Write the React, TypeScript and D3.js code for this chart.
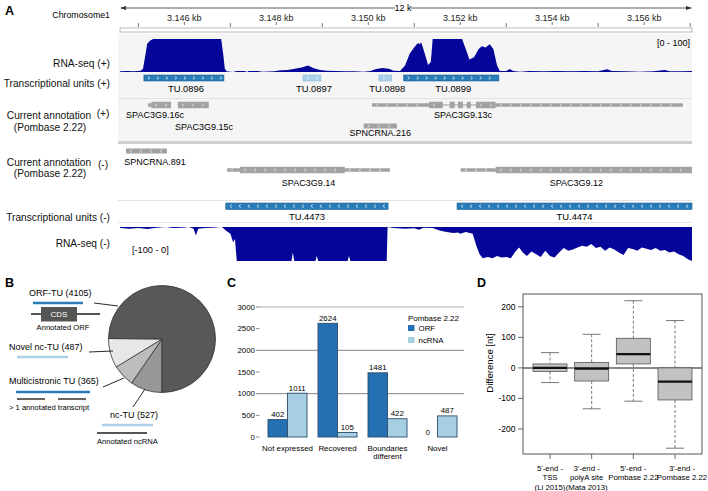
import React from 'react';
import * as d3 from 'd3';

const FONT = '"Liberation Sans", Arial, Helvetica, sans-serif';

// ---------- Panel A data ----------
const genomeDomain = [3144.6, 3157.04];
const rulerLabelTicks = [3146, 3148, 3150, 3152, 3154, 3156];
const rulerMinorTicks = [3145, 3147, 3149, 3151, 3153, 3155, 3157];

const rnaPlus: [number, number][] = [
  [3144.6, 2], [3144.75, 3], [3144.9, 2], [3145.05, 4], [3145.1, 10], [3145.15, 50], [3145.19, 85],
  [3145.25, 95], [3145.32, 100], [3146.8, 100], [3146.84, 60], [3146.88, 10], [3146.92, 2],
  [3147.05, 0], [3147.14, 3], [3147.32, 3], [3147.36, 0], [3147.4, 3], [3147.6, 3], [3147.7, 1],
  [3147.95, 2], [3148.1, 5], [3148.25, 6], [3148.4, 10], [3148.55, 14], [3148.69, 20], [3148.8, 12],
  [3148.95, 6], [3149.1, 4], [3149.3, 3], [3149.5, 2], [3149.7, 2], [3149.9, 1], [3150.05, 3],
  [3150.15, 8], [3150.3, 12], [3150.45, 10], [3150.55, 4], [3150.69, 3], [3150.8, 20], [3150.9, 55],
  [3151.0, 75], [3151.08, 88], [3151.12, 84], [3151.15, 90], [3151.22, 60], [3151.3, 21],
  [3151.36, 30], [3151.4, 100], [3152.04, 100], [3152.12, 70], [3152.2, 38], [3152.3, 45],
  [3152.4, 70], [3152.47, 78], [3152.55, 74], [3152.64, 84], [3152.72, 70], [3152.8, 20],
  [3152.86, 3], [3153.0, 3], [3153.08, 9], [3153.15, 3], [3153.3, 1], [3153.5, 3], [3153.8, 2],
  [3154.1, 3], [3154.4, 2], [3154.7, 3], [3155.0, 2], [3155.19, 8], [3155.3, 3], [3155.6, 2],
  [3155.9, 1], [3156.2, 2], [3156.45, 6], [3156.55, 2], [3156.8, 2], [3157.04, 3],
];

const rnaMinus: [number, number][] = [
  [3144.6, 3], [3144.8, 5], [3145.0, 3], [3145.2, 6], [3145.4, 2], [3145.6, 0], [3145.75, 3],
  [3145.95, 2], [3146.1, 0], [3146.2, 5], [3146.25, 25], [3146.3, 5], [3146.45, 3], [3146.6, 2],
  [3146.8, 0], [3146.84, 2], [3146.9, 10], [3147.0, 20], [3147.06, 45], [3147.1, 35], [3147.14, 100],
  [3148.33, 100], [3148.36, 75], [3148.39, 100], [3148.85, 100], [3148.88, 85], [3148.91, 100],
  [3149.55, 100], [3149.58, 85], [3149.61, 100], [3150.4, 100], [3150.42, 0], [3150.55, 3],
  [3150.8, 5], [3151.0, 4], [3151.1, 8], [3151.2, 2], [3151.4, 3], [3151.55, 10], [3151.7, 15],
  [3151.85, 18], [3151.95, 16], [3152.0, 20], [3152.12, 15], [3152.27, 20], [3152.35, 55],
  [3152.42, 80], [3152.49, 92], [3152.6, 88], [3152.7, 92], [3152.8, 85], [3152.9, 90], [3153.0, 88],
  [3153.1, 92], [3153.2, 72], [3153.28, 60], [3153.36, 75], [3153.45, 85], [3153.55, 72],
  [3153.65, 80], [3153.75, 88], [3153.85, 70], [3153.95, 85], [3154.05, 90], [3154.15, 75],
  [3154.25, 62], [3154.35, 70], [3154.45, 66], [3154.55, 60], [3154.65, 55], [3154.75, 58],
  [3154.85, 50], [3154.95, 62], [3155.05, 58], [3155.15, 70], [3155.25, 60], [3155.35, 66],
  [3155.45, 75], [3155.55, 82], [3155.65, 62], [3155.75, 65], [3155.85, 70], [3155.95, 60],
  [3156.05, 64], [3156.15, 68], [3156.25, 62], [3156.35, 70], [3156.45, 68], [3156.55, 75],
  [3156.65, 72], [3156.75, 80], [3156.85, 85], [3156.95, 95], [3157.04, 100],
];

const tuPlusNames = ['TU.0896', 'TU.0897', 'TU.0898', 'TU.0899'];
const tuPlusStart = [3145.12, 3148.58, 3150.23, 3150.77];
const tuPlusEnd = [3146.86, 3148.97, 3150.51, 3152.84];
const tuPlusNovel = [false, true, true, false];

const tuMinusNames = ['TU.4473', 'TU.4474'];
const tuMinusStart = [3146.9, 3151.93];
const tuMinusEnd = [3150.43, 3157.06];

type Part = [string, number, number];
const genesPlus: { name: string; parts: Part[] }[] = [
  { name: 'SPAC3G9.16c', parts: [['utr', 3145.21, 3145.28], ['cds', 3145.28, 3145.71]] },
  { name: 'SPAC3G9.15c', parts: [['cds', 3145.86, 3146.53]] },
  {
    name: 'SPAC3G9.13c',
    parts: [['utr', 3150.08, 3151.32], ['cds', 3151.32, 3151.62], ['cds', 3151.77, 3151.88],
      ['cds', 3151.95, 3152.06], ['cds', 3152.14, 3152.23], ['cds', 3152.34, 3152.77], ['utr', 3152.77, 3156.84]],
  },
  { name: 'SPNCRNA.216', parts: [['nc', 3149.9, 3150.62]] },
];
const genesMinus: { name: string; parts: Part[] }[] = [
  { name: 'SPNCRNA.891', parts: [['nc', 3144.73, 3145.62]] },
  { name: 'SPAC3G9.14', parts: [['utr', 3146.93, 3147.21], ['cds', 3147.21, 3149.49], ['utr', 3149.49, 3150.47]] },
  { name: 'SPAC3G9.12', parts: [['utr', 3152.01, 3152.77], ['cds', 3152.77, 3157.04]] },
];

// ---------- Panel B data ----------
const pieLabels = ['nc-TU', 'Multicistronic TU', 'Novel nc-TU', 'ORF-TU'];
const pieValues = [527, 365, 487, 4105];

// ---------- Panel C data ----------
const categoriesC = ['Not expressed', 'Recovered', 'Boundaries different', 'Novel'];
const orfCounts = [402, 2624, 1481, 0];
const ncrnaCounts = [1011, 105, 422, 487];
const yTicksC = [0, 500, 1000, 1500, 2000, 2500, 3000];

// ---------- Panel D data ----------
const boxNames = ["5'-end - TSS (Li 2015)", "3'-end - polyA site (Mata 2013)", "5'-end - Pombase 2.22", "3'-end - Pombase 2.22"];
const boxLabelLines = [["5'-end -", 'TSS', '(Li 2015)'], ["3'-end -", 'polyA site', '(Mata 2013)'], ["5'-end -", 'Pombase 2.22'], ["3'-end -", 'Pombase 2.22']];
const whiskerLow = [-48, -134, -109, -263];
const q1 = [-12, -43, 13, -105];
const medians = [0, -2, 45, -45];
const q3 = [13, 18, 97, 0];
const whiskerHigh = [50, 110, 220, 155];
const yTicksD = [-200, -100, 0, 100, 200];

function chevrons(x1: number, x2: number, y: number, dir: number, color: string, key: string, step = 9) {
  const out: JSX.Element[] = [];
  for (let x = x1 + 5; x < x2 - 3; x += step) {
    const d = dir > 0
      ? `M${x - 1},${y - 1.5}L${x + 0.8},${y}L${x - 1},${y + 1.5}`
      : `M${x + 1},${y - 1.5}L${x - 0.8},${y}L${x + 1},${y + 1.5}`;
    out.push(<path key={`${key}-${x}`} d={d} fill="none" stroke={color} strokeWidth={0.8} />);
  }
  return out;
}

export default function App() {
  const xA = d3.scaleLinear().domain(genomeDomain).range([120, 692]);
  const yPlus = d3.scaleLinear().domain([0, 100]).range([72, 39]);
  const yMinus = d3.scaleLinear().domain([0, 100]).range([227, 261]);
  const areaPlus = d3.area<[number, number]>().x(d => xA(d[0])).y0(yPlus(0)).y1(d => yPlus(d[1]));
  const areaMinus = d3.area<[number, number]>().x(d => xA(d[0])).y0(yMinus(0)).y1(d => yMinus(d[1]));
  const clampX = (v: number) => Math.max(120, Math.min(692, v));

  const renderGene = (g: { name: string; parts: Part[] }, y: number, dir: number, key: string) => {
    const s = clampX(xA(d3.min(g.parts, p => p[1])!));
    const e = clampX(xA(d3.max(g.parts, p => p[2])!));
    const els: JSX.Element[] = [<line key={key + 'l'} x1={s} x2={e} y1={y} y2={y} stroke="#9a9a9a" strokeWidth={1} />];
    g.parts.forEach((p, i) => {
      const a = clampX(xA(p[1]));
      const b = clampX(xA(p[2]));
      const h = p[0] === 'cds' ? 6.5 : p[0] === 'nc' ? 5 : 3.5;
      els.push(<rect key={key + i} x={a} y={y - h / 2} width={b - a} height={h} fill="#a2a2a2" />);
      els.push(...chevrons(a, b, y, dir, '#e6e6e6', key + 'c' + i, 10));
    });
    return els;
  };

  // Panel B
  const pie = d3.pie<number>().sort(null).startAngle(Math.PI).endAngle(3 * Math.PI)(pieValues);
  const arc = d3.arc<d3.PieArcDatum<number>>().innerRadius(0).outerRadius(53.5);
  const pieColors = ['#979797', '#bdbdbd', '#e7e7e7', '#585858'];

  // Panel C
  const x0 = d3.scaleBand().domain(categoriesC).range([262.5, 462.5]).paddingInner(0.22).paddingOuter(0.11);
  const x1 = d3.scaleBand().domain(['ORF', 'ncRNA']).range([0, x0.bandwidth()]);
  const yC = d3.scaleLinear().domain([0, 3000]).range([437, 307]);
  const orfColor = '#2470b2';
  const ncColor = '#a7cfe4';
  const barStroke = '#2a4d6c';
  const fsC = 7.9;

  // Panel D
  const xD = d3.scalePoint().domain(boxNames).range([550, 675]);
  const yD = d3.scaleLinear().domain([-282, 242]).range([454, 294]);
  const bw = 34;
  const labelShiftD = [0, -5, 0, 7];

  const trackLabel = { fontFamily: FONT, fontSize: 10.2, fill: '#111' } as const;
  const fsGene = 9;
  const fsB = 9;
  const fsBsub = 7.6;

  return (
    <div>
      <style>{`body{margin:0}`}</style>
      <svg width={708} height={491} style={{ display: 'block', background: '#fff' }}>
        {/* ================= PANEL A ================= */}
        <text x={5} y={15} fontFamily={FONT} fontWeight="bold" fontSize={12.5}>A</text>
        <text x={110} y={18} textAnchor="end" fontFamily={FONT} fontSize={8.8}>Chromosome1</text>
        {/* ruler span */}
        <line x1={121} x2={691} y1={8} y2={8} stroke="#333" strokeWidth={0.8} />
        <path d="M120,8 L126,6 L126,10 Z" fill="#333" />
        <path d="M692,8 L686,6 L686,10 Z" fill="#333" />
        <rect x={395} y={2} width={16} height={12} fill="#fff" />
        <text x={403} y={11} textAnchor="middle" fontFamily={FONT} fontSize={9}>12 k</text>
        {rulerLabelTicks.map(t => (
          <g key={'rt' + t}>
            <text x={xA(t)} y={21} textAnchor="middle" fontFamily={FONT} fontSize={9} fill="#222">{`${(t / 1000).toFixed(3)} kb`}</text>
            <line x1={xA(t)} x2={xA(t)} y1={22} y2={25} stroke="#555" strokeWidth={0.8} />
          </g>
        ))}
        {rulerMinorTicks.map(t => (
          <line key={'rm' + t} x1={xA(t)} x2={xA(t)} y1={23} y2={27} stroke="#555" strokeWidth={0.8} />
        ))}
        <rect x={120} y={28} width={572} height={4} fill="#fff" stroke="#aaa" strokeWidth={0.8} />
        {/* background of plus-strand block */}
        <rect x={118} y={34} width={574} height={107} fill="#f5f5f5" />
        <rect x={118} y={141} width={574} height={3} fill="#cfcfcf" />
        <line x1={118} x2={692} y1={98.5} y2={98.5} stroke="#e2e2e2" strokeWidth={1} />
        <line x1={118} x2={692} y1={200.5} y2={200.5} stroke="#e2e2e2" strokeWidth={1} />
        <line x1={118} x2={692} y1={222.5} y2={222.5} stroke="#e2e2e2" strokeWidth={1} />

        {/* RNA-seq + */}
        <path d={areaPlus(rnaPlus) || ''} fill="#05059a" />
        <text x={690} y={46} textAnchor="end" fontFamily={FONT} fontSize={9}>[0 - 100]</text>
        <text x={110} y={66.5} textAnchor="end" {...trackLabel}>RNA-seq (+)</text>

        {/* TU + */}
        <text x={110} y={86.5} textAnchor="end" {...trackLabel}>Transcriptional units (+)</text>
        {tuPlusNames.map((n, i) => {
          const a = xA(tuPlusStart[i]);
          const b = xA(tuPlusEnd[i]);
          const fill = tuPlusNovel[i] ? '#a9d0e7' : '#2a7cb9';
          const stroke = tuPlusNovel[i] ? '#8cbedb' : '#1d6399';
          return (
            <g key={n}>
              <rect x={a} y={75} width={b - a} height={6} fill={fill} stroke={stroke} strokeWidth={0.6} />
              {chevrons(a, b, 78, 1, '#e8f2fa', n)}
              <text x={(a + b) / 2 + 2} y={92.3} textAnchor="middle" fontFamily={FONT} fontSize={9.4}>{n}</text>
            </g>
          );
        })}

        {/* annotation + */}
        <text x={49} y={118.5} textAnchor="middle" {...trackLabel}>Current annotation</text>
        <text x={50} y={130.5} textAnchor="middle" {...trackLabel}>(Pombase 2.22)</text>
        <text x={103} y={116.5} textAnchor="middle" {...trackLabel}>(+)</text>
        {genesPlus.map((g, i) => {
          const y = g.name === 'SPNCRNA.216' ? 126 : 105;
          const ly = g.name === 'SPNCRNA.216' ? 136.2 : g.name === 'SPAC3G9.15c' ? 130.2 : 118.2;
          const s = xA(d3.min(g.parts, p => p[1])!);
          const e = xA(d3.max(g.parts, p => p[2])!);
          const cx = g.name === 'SPAC3G9.16c' ? 155 : g.name === 'SPAC3G9.15c' ? 204 : (s + e) / 2;
          const lx = g.name === 'SPAC3G9.13c' ? 463 : cx;
          return (
            <g key={g.name}>
              {renderGene(g, y, 1, 'gp' + i)}
              <text x={lx} y={ly} textAnchor="middle" fontFamily={FONT} fontSize={fsGene}>{g.name}</text>
            </g>
          );
        })}

        {/* annotation - */}
        <text x={49} y={165.5} textAnchor="middle" {...trackLabel}>Current annotation</text>
        <text x={50} y={176.5} textAnchor="middle" {...trackLabel}>(Pombase 2.22)</text>
        <text x={103} y={167.5} textAnchor="middle" {...trackLabel}>(-)</text>
        {genesMinus.map((g, i) => {
          const y = g.name === 'SPNCRNA.891' ? 151 : 170;
          const ly = g.name === 'SPNCRNA.891' ? 165.2 : 186.2;
          const s = clampX(xA(d3.min(g.parts, p => p[1])!));
          const e = clampX(xA(d3.max(g.parts, p => p[2])!));
          const lx = Math.max(155, (s + e) / 2);
          return (
            <g key={g.name}>
              {renderGene(g, y, -1, 'gm' + i)}
              <text x={lx} y={ly} textAnchor="middle" fontFamily={FONT} fontSize={fsGene}>{g.name}</text>
            </g>
          );
        })}

        {/* TU - */}
        <text x={110} y={220.5} textAnchor="end" {...trackLabel}>Transcriptional units (-)</text>
        {tuMinusNames.map((n, i) => {
          const a = clampX(xA(tuMinusStart[i]));
          const b = clampX(xA(tuMinusEnd[i]));
          return (
            <g key={n}>
              <rect x={a} y={203} width={b - a} height={6.5} fill="#2a7cb9" stroke="#1d6399" strokeWidth={0.6} />
              {chevrons(a, b, 206.2, -1, '#e8f2fa', n)}
              <text x={(a + b) / 2} y={220.3} textAnchor="middle" fontFamily={FONT} fontSize={9.4}>{n}</text>
            </g>
          );
        })}

        {/* RNA-seq - */}
        <path d={areaMinus(rnaMinus) || ''} fill="#05059a" />
        <text x={110} y={246.5} textAnchor="end" {...trackLabel}>RNA-seq (-)</text>
        <text x={132} y={253.2} fontFamily={FONT} fontSize={9.2}>[-100 - 0]</text>

        {/* ================= PANEL B ================= */}
        <text x={5} y={287} fontFamily={FONT} fontWeight="bold" fontSize={12.5}>B</text>
        <g transform="translate(162,339)">
          {pie.map((p, i) => (
            <path key={'pie' + i} d={arc(p) || ''} fill={pieColors[i]} stroke="#333" strokeWidth={0.8} />
          ))}
        </g>
        {/* ORF-TU */}
        <text x={29} y={296.2} fontFamily={FONT} fontSize={fsB}>{`${pieLabels[3]} (${pieValues[3]})`}</text>
        <line x1={33} x2={83} y1={303} y2={303} stroke="#2a7cb9" strokeWidth={2.5} />
        <line x1={31} x2={100} y1={314} y2={314} stroke="#555" strokeWidth={1.8} />
        <rect x={41} y={307} width={36} height={14.5} fill="#555" />
        <text x={59} y={317.2} textAnchor="middle" fontFamily={FONT} fontSize={8} fill="#fff">CDS</text>
        <text x={63} y={329.6} textAnchor="middle" fontFamily={FONT} fontSize={fsBsub}>Annotated ORF</text>
        <line x1={94} x2={118} y1={303} y2={306} stroke="#111" strokeWidth={0.9} />
        {/* Novel nc-TU */}
        <text x={9} y={350.2} fontFamily={FONT} fontSize={fsB}>{`${pieLabels[2]} (${pieValues[2]})`}</text>
        <line x1={17} x2={68} y1={357} y2={357} stroke="#a9d0e7" strokeWidth={2.5} />
        <line x1={89} x2={113} y1={352} y2={351} stroke="#111" strokeWidth={0.9} />
        {/* Multicistronic */}
        <text x={9} y={384.2} fontFamily={FONT} fontSize={fsB}>{`${pieLabels[1]} (${pieValues[1]})`}</text>
        <line x1={16} x2={90} y1={392} y2={392} stroke="#2a7cb9" strokeWidth={2.5} />
        <line x1={17} x2={45} y1={399} y2={399} stroke="#555" strokeWidth={1.8} />
        <line x1={58} x2={86} y1={399} y2={399} stroke="#555" strokeWidth={1.8} />
        <text x={9} y={409.6} fontFamily={FONT} fontSize={fsBsub}>{'> 1 annotated transcript'}</text>
        <line x1={103} x2={124} y1={387} y2={378} stroke="#111" strokeWidth={0.9} />
        {/* nc-TU */}
        <text x={110} y={418.2} fontFamily={FONT} fontSize={fsB}>{`${pieLabels[0]} (${pieValues[0]})`}</text>
        <line x1={133} x2={145} y1={407} y2={389} stroke="#111" strokeWidth={0.9} />
        <line x1={102} x2={153} y1={425} y2={425} stroke="#a9d0e7" strokeWidth={2.5} />
        <line x1={97} x2={147} y1={433} y2={433} stroke="#555" strokeWidth={1.8} />
        <text x={97} y={443.6} fontFamily={FONT} fontSize={fsBsub}>Annotated ncRNA</text>

        {/* ================= PANEL C ================= */}
        <text x={227} y={287} fontFamily={FONT} fontWeight="bold" fontSize={12.5}>C</text>
        {[1000, 2000, 3000].map(t => (
          <line key={'gc' + t} x1={259} x2={464} y1={yC(t)} y2={yC(t)} stroke={t === 3000 ? '#9a9a9a' : '#666'} strokeWidth={0.8} />
        ))}
        {yTicksC.map(t => (
          <g key={'tc' + t}>
            <line x1={256} x2={259.5} y1={yC(t)} y2={yC(t)} stroke="#666" strokeWidth={0.8} />
            <text x={255} y={yC(t) + 2.8} textAnchor="end" fontFamily={FONT} fontSize={fsC}>{t}</text>
          </g>
        ))}
        {categoriesC.map((c, i) => {
          const gx = x0(c)!;
          const xo = gx + x1('ORF')!;
          const xn = gx + x1('ncRNA')!;
          const w = x1.bandwidth();
          const mid = gx + x0.bandwidth() / 2;
          return (
            <g key={c}>
              <rect x={xo} y={yC(orfCounts[i])} width={w} height={yC(0) - yC(orfCounts[i])} fill={orfColor} stroke={barStroke} strokeWidth={0.9} />
              <rect x={xn} y={yC(ncrnaCounts[i])} width={w} height={yC(0) - yC(ncrnaCounts[i])} fill={ncColor} stroke={barStroke} strokeWidth={0.9} />
              <text x={xo + w / 2} y={yC(orfCounts[i]) - 2.5} textAnchor="middle" fontFamily={FONT} fontSize={fsC}>{orfCounts[i]}</text>
              <text x={xn + w / 2} y={yC(ncrnaCounts[i]) - 2.5} textAnchor="middle" fontFamily={FONT} fontSize={fsC}>{ncrnaCounts[i]}</text>
              {c === 'Boundaries different' ? (
                <text y={450.7} textAnchor="middle" fontFamily={FONT} fontSize={fsC}>
                  <tspan x={mid}>Boundaries</tspan>
                  <tspan x={mid} dy={8.5}>different</tspan>
                </text>
              ) : (
                <text x={mid} y={450.7} textAnchor="middle" fontFamily={FONT} fontSize={fsC}>{c}</text>
              )}
            </g>
          );
        })}
        <text x={408} y={320.7} fontFamily={FONT} fontSize={fsC}>Pombase 2.22</text>
        <rect x={408} y={325} width={6.5} height={6} fill={orfColor} />
        <text x={418.5} y={330.7} fontFamily={FONT} fontSize={fsC}>ORF</text>
        <rect x={408} y={337} width={6.5} height={6} fill={ncColor} />
        <text x={418.5} y={342.7} fontFamily={FONT} fontSize={fsC}>ncRNA</text>

        {/* ================= PANEL D ================= */}
        <text x={477} y={287} fontFamily={FONT} fontWeight="bold" fontSize={12.5}>D</text>
        <text transform={`translate(492.5,363) rotate(-90)`} textAnchor="middle" fontFamily={FONT} fontSize={9.6}>Difference [nt]</text>
        {yTicksD.map(t => (
          <g key={'td' + t}>
            <line x1={518} x2={523} y1={yD(t)} y2={yD(t)} stroke="#444" strokeWidth={0.8} />
            <text x={515.5} y={yD(t) + 3} textAnchor="end" fontFamily={FONT} fontSize={8.5}>{t}</text>
          </g>
        ))}
        <line x1={523} x2={702} y1={yD(0)} y2={yD(0)} stroke="#8a8a8a" strokeWidth={2} />
        {boxNames.map((n, i) => {
          const cx = xD(n)!;
          return (
            <g key={n}>
              <line x1={cx} x2={cx} y1={yD(whiskerHigh[i])} y2={yD(q3[i])} stroke="#555" strokeWidth={0.8} strokeDasharray="3,2" />
              <line x1={cx} x2={cx} y1={yD(q1[i])} y2={yD(whiskerLow[i])} stroke="#555" strokeWidth={0.8} strokeDasharray="3,2" />
              <line x1={cx - 9} x2={cx + 9} y1={yD(whiskerHigh[i])} y2={yD(whiskerHigh[i])} stroke="#555" strokeWidth={0.8} />
              <line x1={cx - 9} x2={cx + 9} y1={yD(whiskerLow[i])} y2={yD(whiskerLow[i])} stroke="#555" strokeWidth={0.8} />
              <rect x={cx - bw / 2} y={yD(q3[i])} width={bw} height={yD(q1[i]) - yD(q3[i])} fill="#c2c2c2" stroke="#555" strokeWidth={0.8} />
              <line x1={cx - bw / 2} x2={cx + bw / 2} y1={yD(medians[i])} y2={yD(medians[i])} stroke="#111" strokeWidth={2.4} />
              <line x1={cx} x2={cx} y1={454} y2={459} stroke="#444" strokeWidth={0.8} />
              {boxLabelLines[i].map((l, j) => (
                <text key={l + j} x={cx + labelShiftD[i]} y={470.7 + j * 9.5} textAnchor="middle" fontFamily={FONT} fontSize={7.8}>{l}</text>
              ))}
            </g>
          );
        })}
        <rect x={523} y={294} width={179} height={160} fill="none" stroke="#444" strokeWidth={0.9} />
      </svg>
    </div>
  );
}
